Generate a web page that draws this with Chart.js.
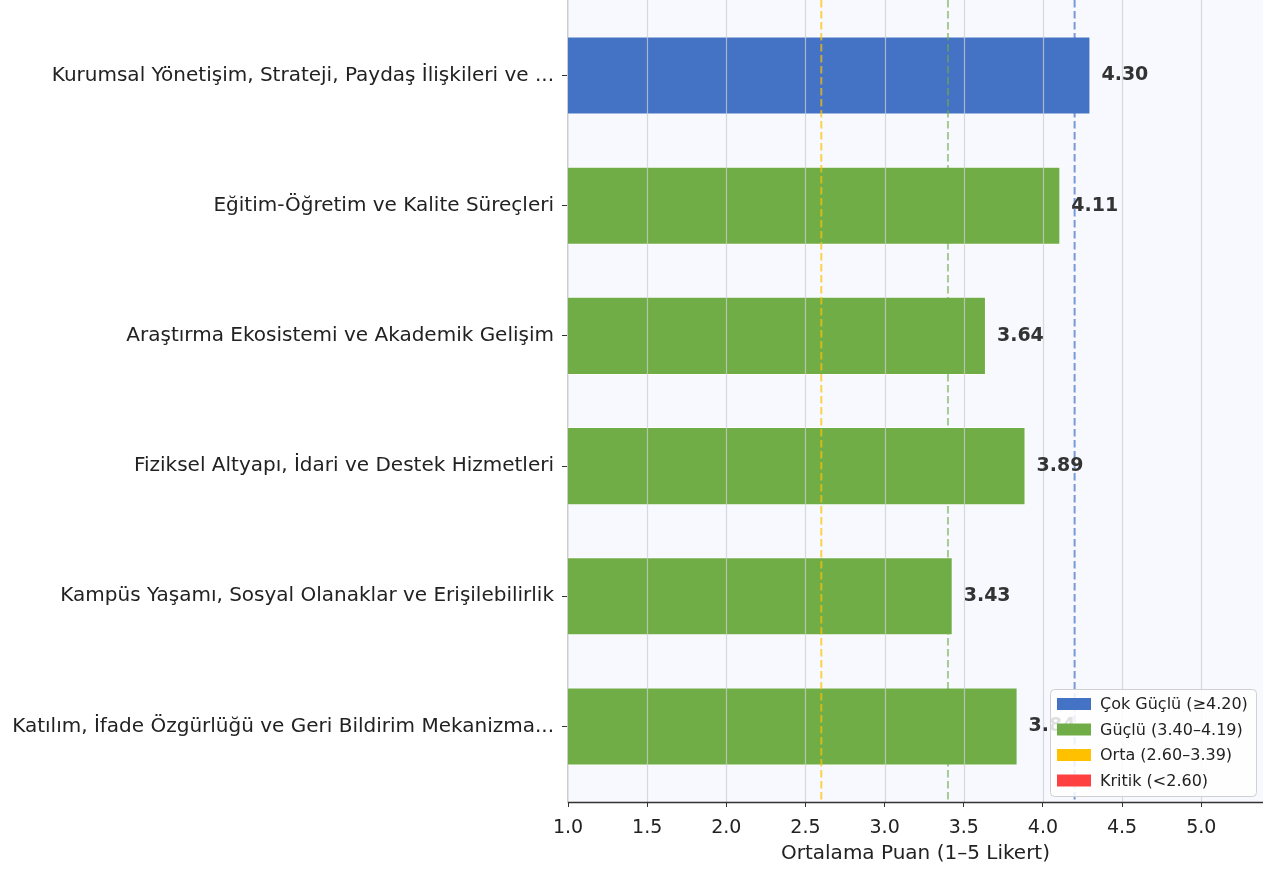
<!DOCTYPE html>
<html>
<head>
<meta charset="utf-8">
<script src="https://cdn.jsdelivr.net/npm/chart.js@4.4.1/dist/chart.umd.min.js"></script>
<style>
  html, body { margin: 0; padding: 0; background: #ffffff; }
  #wrap { width: 1278px; height: 870px; }
</style>
</head>
<body>
<div id="wrap"><canvas id="chart" width="1278" height="870"></canvas></div>
<script>
// Data
const categories = [
    'Kurumsal Yönetişim, Strateji, Paydaş İlişkileri ve ...',
    'Eğitim-Öğretim ve Kalite Süreçleri',
    'Araştırma Ekosistemi ve Akademik Gelişim',
    'Fiziksel Altyapı, İdari ve Destek Hizmetleri',
    'Kampüs Yaşamı, Sosyal Olanaklar ve Erişilebilirlik',
    'Katılım, İfade Özgürlüğü ve Geri Bildirim Mekanizma...'
];
const scores = [4.30, 4.11, 3.64, 3.89, 3.43, 3.84];
const xTicks = [1.0, 1.5, 2.0, 2.5, 3.0, 3.5, 4.0, 4.5, 5.0];
const thresholds = [2.6, 3.4, 4.2];
const legendLabels = ['Çok Güçlü (≥4.20)', 'Güçlü (3.40–4.19)', 'Orta (2.60–3.39)', 'Kritik (<2.60)'];

const bandColors = ['#4472C4', '#70AD47', '#FFC000', '#FF4040'];
const thresholdColors = ['rgba(255,192,0,0.7)', 'rgba(112,173,71,0.6)', 'rgba(68,114,196,0.7)'];

function bandOf(v) {
    if (v >= 4.2) return 0;
    if (v >= 3.4) return 1;
    if (v >= 2.6) return 2;
    return 3;
}

const FONT = "'DejaVu Sans', sans-serif";

const decorPlugin = {
    id: 'decor',
    beforeDraw(chart) {
        const { ctx, chartArea: a } = chart;
        ctx.save();
        ctx.fillStyle = '#f8f9fe';
        ctx.fillRect(a.left, a.top, a.right - a.left, a.bottom - a.top);
        ctx.restore();
    },
    afterDatasetsDraw(chart) {
        const { ctx, chartArea: a, scales } = chart;
        const xs = scales.x;
        ctx.save();
        // grid lines over the bars
        ctx.strokeStyle = 'rgba(205,205,210,0.75)';
        ctx.lineWidth = 1.2;
        xTicks.forEach(t => {
            if (t === 1.0) return;
            const px = Math.round(xs.getPixelForValue(t)) + 0.5;
            ctx.beginPath();
            ctx.moveTo(px, a.top);
            ctx.lineTo(px, a.bottom);
            ctx.stroke();
        });
        // threshold lines
        ctx.lineWidth = 2;
        ctx.setLineDash([7.5, 3.5]);
        thresholds.forEach((t, i) => {
            const px = xs.getPixelForValue(t);
            ctx.strokeStyle = thresholdColors[i];
            ctx.beginPath();
            ctx.moveTo(px, a.top);
            ctx.lineTo(px, a.bottom);
            ctx.stroke();
        });
        ctx.setLineDash([]);
        // value labels
        ctx.fillStyle = '#333333';
        ctx.font = 'bold 19px ' + FONT;
        ctx.textAlign = 'left';
        ctx.textBaseline = 'middle';
        const meta = chart.getDatasetMeta(0);
        meta.data.forEach((bar, i) => {
            ctx.fillText(scores[i].toFixed(2), bar.x + 11, bar.y);
        });
        ctx.restore();
    },
    afterDraw(chart) {
        const { ctx, chartArea: a } = chart;
        ctx.save();
        // legend box, lower right
        const w = 206, h = 107;
        const x0 = a.right - 7 - w, y0 = a.bottom - 6 - h;
        ctx.fillStyle = 'rgba(255,255,255,0.85)';
        ctx.strokeStyle = '#d0d0d0';
        ctx.lineWidth = 1;
        ctx.beginPath();
        ctx.roundRect(x0 + 0.5, y0 + 0.5, w, h, 4);
        ctx.fill();
        ctx.stroke();
        ctx.font = '16px ' + FONT;
        ctx.textAlign = 'left';
        ctx.textBaseline = 'middle';
        legendLabels.forEach((lab, i) => {
            const cy = y0 + 15 + i * 25.5;
            ctx.fillStyle = bandColors[i];
            ctx.fillRect(x0 + 7, cy - 6, 34, 12);
            ctx.fillStyle = '#222222';
            ctx.fillText(lab, x0 + 50, cy + 1);
        });
        // bottom spine
        ctx.strokeStyle = '#333333';
        ctx.lineWidth = 1.5;
        ctx.beginPath();
        ctx.moveTo(a.left, a.bottom + 0.5);
        ctx.lineTo(a.right, a.bottom + 0.5);
        ctx.stroke();
        ctx.restore();
    }
};

new Chart(document.getElementById('chart'), {
    type: 'bar',
    data: {
        datasets: [{
            data: scores.map((v, i) => ({ x: v, y: i })),
            backgroundColor: scores.map(v => bandColors[bandOf(v)]),
            borderColor: 'rgba(255,255,255,0.8)',
            borderWidth: 1,
            borderSkipped: false,
            categoryPercentage: 1.0,
            barPercentage: 0.6
        }]
    },
    options: {
        indexAxis: 'y',
        responsive: false,
        animation: false,
        layout: { padding: { top: 0, right: 15, left: 0, bottom: 0 } },
        plugins: {
            legend: { display: false },
            tooltip: { enabled: false }
        },
        scales: {
            x: {
                type: 'linear',
                min: 1.0,
                max: 5.39,
                afterBuildTicks: s => { s.ticks = xTicks.map(v => ({ value: v })); },
                afterFit: s => { s.height = 68; },
                ticks: {
                    color: '#222222',
                    font: { family: FONT, size: 19 },
                    padding: 10,
                    maxRotation: 0,
                    callback: v => Number(v).toFixed(1)
                },
                grid: { drawOnChartArea: false, drawTicks: true, tickLength: 5, tickColor: '#333333' },
                border: { display: false },
                title: {
                    display: true,
                    text: 'Ortalama Puan (1–5 Likert)',
                    color: '#222222',
                    font: { family: FONT, size: 20 },
                    padding: { top: 0, bottom: 4 }
                }
            },
            y: {
                type: 'linear',
                reverse: true,
                offset: false,
                min: -0.58,
                max: 5.58,
                afterBuildTicks: s => { s.ticks = categories.map((c, i) => ({ value: i })); },
                afterFit: s => { s.width = 568; s.paddingTop = 0; s.paddingBottom = 0; },
                ticks: {
                    color: '#222222',
                    font: { family: FONT, size: 20 },
                    padding: 8,
                    callback: v => categories[v]
                },
                grid: { offset: false, drawOnChartArea: false, drawTicks: true, tickLength: 6, tickColor: '#333333' },
                border: { display: true, color: '#cccccc', width: 1.5 }
            }
        }
    },
    plugins: [decorPlugin]
});
</script>
</body>
</html>
